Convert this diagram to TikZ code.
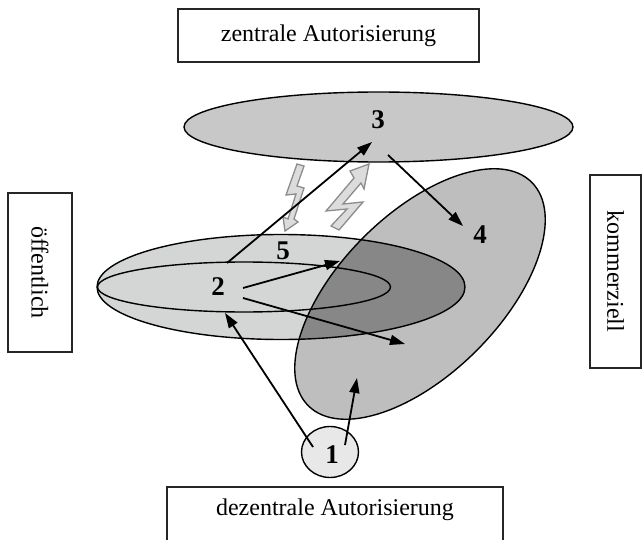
\documentclass[tikz,border=0pt]{standalone}
\usepackage{fontspec}
\setmainfont{Liberation Serif}
\usetikzlibrary{arrows.meta}
\definecolor{topF}{RGB}{200,200,200}
\definecolor{oefF}{RGB}{212,214,214}
\definecolor{komF}{RGB}{190,190,190}
\definecolor{overF}{RGB}{135,135,135}
\definecolor{oneF}{RGB}{232,232,232}
\definecolor{boltF}{RGB}{220,220,220}
\definecolor{boltD}{RGB}{140,140,140}
\begin{document}
\begin{tikzpicture}[x=1pt,y=-1pt,
  box/.style={draw=black!85, line width=1.6pt, fill=white},
  lbl/.style={font=\fontsize{24}{28}\selectfont, inner sep=0pt},
  num/.style={font=\fontsize{27}{30}\selectfont\bfseries, inner sep=0pt},
  conn/.style={line width=1.8pt, -{Triangle[length=15pt,width=10pt]}},
  outl/.style={line width=1.4pt, draw=black},
  bolt/.style={draw=boltD, fill=boltF, line width=1.3pt, line join=miter},
  komm/.style={rotate around={45:(420,294)}}
]
\useasboundingbox (0,0) rectangle (642,540);
\clip (0,0) rectangle (642,540);

% boxes
\node[box, lbl, minimum width=301pt, minimum height=53pt] (zen) at (328.5,35.5) {zentrale Autorisierung};
\node[box, lbl, rotate=-90, minimum width=159pt, minimum height=64pt] (oef) at (40,272.5) {öffentlich};
\node[box, lbl, rotate=-90, minimum width=193pt, minimum height=51pt] (kom) at (615.5,271.5) {kommerziell};
\draw[box] (167,548) |- (503,487) -- (503,548);
\node[lbl] (dez) at (335,510) {dezentrale Autorisierung};

% top ellipse
\path[outl, fill=topF] (378.5,127) ellipse [x radius=194.5, y radius=35];

% kommerziell and oeffentlich areas
\path[fill=komF, komm] (420,294) ellipse [x radius=158, y radius=80];
\path[fill=oefF] (281,287) ellipse [x radius=184, y radius=52.5];
\begin{scope}
  \clip[komm] (420,294) ellipse [x radius=158, y radius=80];
  \fill[overF] (281,287) ellipse [x radius=184, y radius=52.5];
\end{scope}
\draw[outl, komm] (420,294) ellipse [x radius=158, y radius=80];
\draw[outl] (281,287) ellipse [x radius=184, y radius=52.5];
\draw[outl] (244,287) ellipse [x radius=146.5, y radius=25];

% circle 1
\path[outl, fill=oneF] (330,452) ellipse [x radius=28.5, y radius=25.5];

% lightning bolts
\path[bolt] (297,164) -- (304,166) -- (297,186) -- (304,188) -- (294,219) -- (298,222)
  -- (285,231) -- (283,217) -- (288,219) -- (296,194) -- (286,195) -- cycle;
\path[bolt] (369,164) -- (364,189) -- (361,183) -- (343,204) -- (363,202) -- (339,230)
  -- (331,226) -- (347,209) -- (326,211) -- (354,178) -- (350,171) -- cycle;

% labels
\node[num] (n1) at (332,455) {1};
\node[num] (n2) at (218,287) {2};
\node[num] (n3) at (378,120) {3};
\node[num] (n4) at (480,235) {4};
\node[num] (n5) at (283,251) {5};

% connector end points
\coordinate (a1s) at (313,447); \coordinate (a1e) at (225,313);
\coordinate (b1s) at (345,445); \coordinate (b1e) at (357,378);
\coordinate (a2s) at (227,263); \coordinate (a2e) at (372,142);
\coordinate (b2s) at (243,288); \coordinate (b2e) at (340,261);
\coordinate (c2s) at (243,298); \coordinate (c2e) at (405,344);
\coordinate (a3s) at (388,155); \coordinate (a3e) at (463,226);

\draw[conn] (a1s) -- (a1e);
\draw[conn] (b1s) -- (b1e);
\draw[conn] (a2s) -- (a2e);
\draw[conn] (b2s) -- (b2e);
\draw[conn] (c2s) -- (c2e);
\draw[conn] (a3s) -- (a3e);
\end{tikzpicture}
\end{document}
